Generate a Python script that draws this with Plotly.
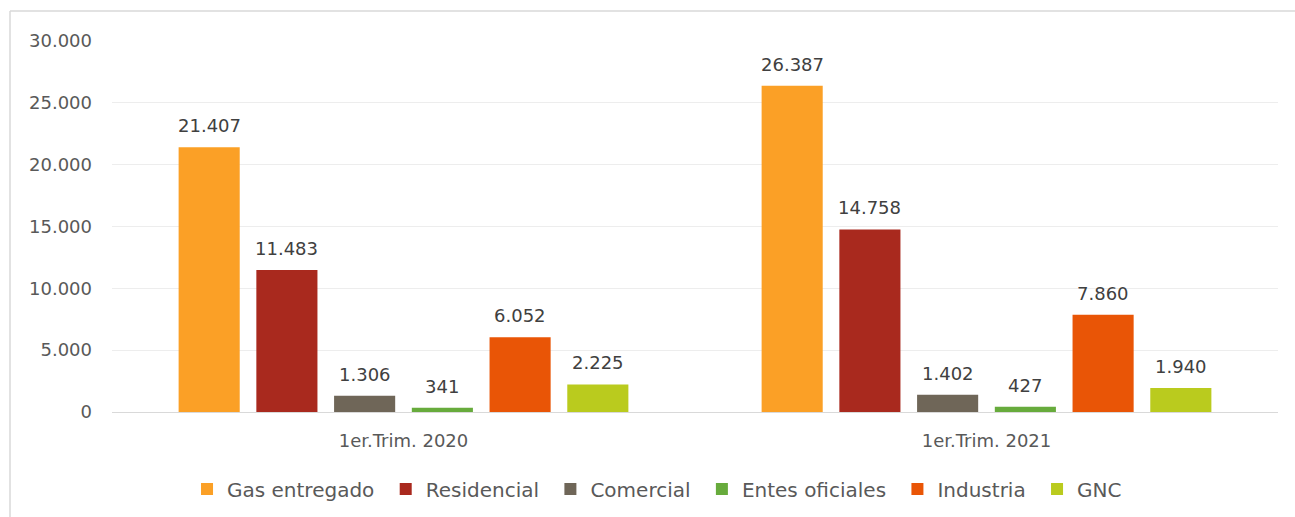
import plotly.graph_objects as go

categories = ["1er.Trim. 2020", "1er.Trim. 2021"]
series_names = ["Gas entregado", "Residencial", "Comercial", "Entes oficiales", "Industria", "GNC"]
gas_entregado = [21407, 26387]
residencial = [11483, 14758]
comercial = [1306, 1402]
entes_oficiales = [341, 427]
industria = [6052, 7860]
gnc = [2225, 1940]
colors = ["#FBA026", "#A9291E", "#6F6658", "#67AB3C", "#E95506", "#BACB1E"]

values = [gas_entregado, residencial, comercial, entes_oficiales, industria, gnc]

def fmt(v):
    return f"{v:,}".replace(",", ".")

FONT = "'DejaVu Sans', sans-serif"
BARGAP = 0.2
NS = len(series_names)

fig = go.Figure()
for name, vals, col in zip(series_names, values, colors):
    fig.add_trace(go.Bar(
        x=categories, y=vals, name=name + "\u00a0",
        marker=dict(color=col, line=dict(width=0)),
        cliponaxis=False,
    ))

# value labels above bars
slot = (1 - BARGAP) / NS
for j, vals in enumerate(values):
    for i, v in enumerate(vals):
        fig.add_annotation(x=i + (j - (NS - 1) / 2) * slot, y=v, xref="x", yref="y",
                           text=fmt(v), showarrow=False, yanchor="bottom", yshift=9,
                           font=dict(family=FONT, size=18, color="#404040"))

W, H = 1295, 517
l, r, t, b = 112, 17, 41, 105
pw = W - l - r
ph = H - t - b

fig.update_layout(
    width=W, height=H,
    margin=dict(l=l, r=r, t=t, b=b, autoexpand=False),
    paper_bgcolor="white", plot_bgcolor="white",
    font=dict(family=FONT, color="#595959", size=18),
    barmode="group", bargap=BARGAP, bargroupgap=0.214,
    showlegend=True,
    separators=",.",
    legend=dict(orientation="h", x=0.47, xanchor="center",
                yref="container", y=1 - 489 / H, yanchor="middle",
                font=dict(family=FONT, size=20, color="#595959"), itemwidth=30,
                traceorder="normal"),
    xaxis=dict(showgrid=False, showline=True, linecolor="#D9D9D9", linewidth=1,
               ticks="", tickfont=dict(family=FONT, size=18, color="#595959"),
               ticklabelstandoff=12),
    yaxis=dict(range=[0, 30000], dtick=5000, showgrid=True, gridcolor="#EDEDED",
               gridwidth=1, zeroline=False, showline=False,
               tickformat=",d",
               tickfont=dict(family=FONT, size=18, color="#595959"), ticklabelstandoff=19),
)

# outer border of chart area (left and top edges visible; rest is cut off)
bx = (10 - l) / pw
by = 1 + (t - 11) / ph
fig.add_shape(type="line", xref="paper", yref="paper",
              x0=bx, x1=(W - l) / pw, y0=by, y1=by,
              line=dict(color="#D9D9D9", width=1.5), layer="below")
fig.add_shape(type="line", xref="paper", yref="paper",
              x0=bx, x1=bx, y0=by, y1=-(H - t - ph) / ph,
              line=dict(color="#D9D9D9", width=1.5), layer="below")

fig.write_html("out.html", config={"displayModeBar": False},
               post_script="document.body.style.margin='0';document.body.style.overflow='hidden';")
